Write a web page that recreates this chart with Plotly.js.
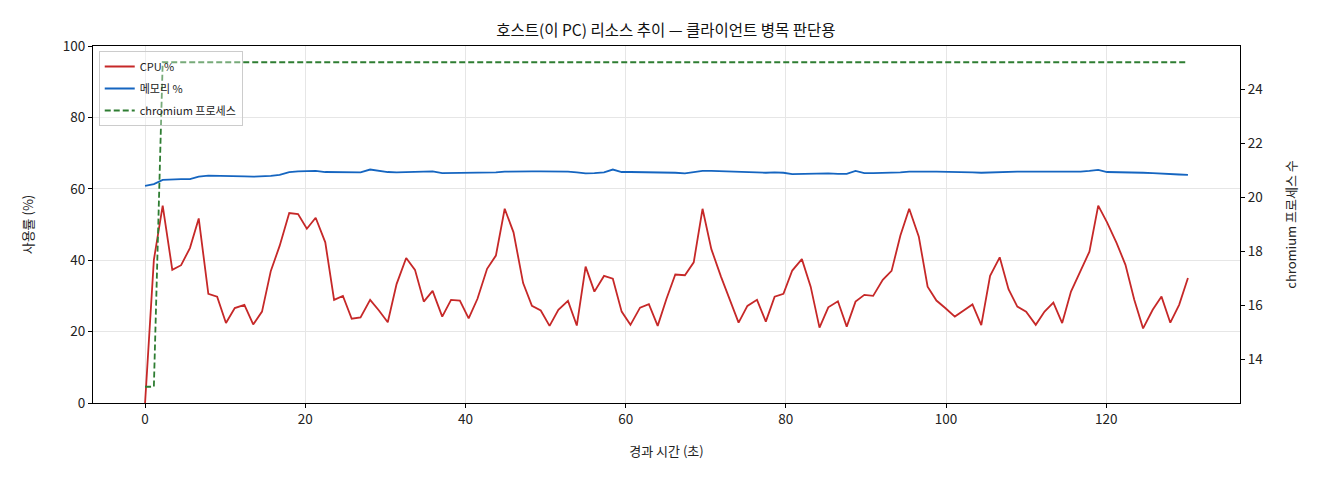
<!DOCTYPE html>
<html>
<head>
<meta charset="utf-8">
<script src="https://cdn.plot.ly/plotly-3.0.1.min.js"></script>
<style>
  html, body { margin: 0; padding: 0; background: #fff; }
  #chart { width: 1320px; height: 480px; }
</style>
</head>
<body>
<div id="chart"></div>
<script>
"use strict";

// elapsed time (s) for each sample
var elapsed = [
  0.0, 1.1, 2.2, 3.4, 4.5, 5.6, 6.7, 7.9, 9.0, 10.1,
  11.2, 12.4, 13.5, 14.6, 15.7, 16.8, 18.0, 19.1, 20.2, 21.3,
  22.5, 23.6, 24.7, 25.8, 26.9, 28.1, 29.2, 30.3, 31.4, 32.6,
  33.7, 34.8, 35.9, 37.1, 38.2, 39.3, 40.4, 41.5, 42.7, 43.8,
  44.9, 46.0, 47.2, 48.3, 49.4, 50.5, 51.6, 52.8, 53.9, 55.0,
  56.1, 57.3, 58.4, 59.5, 60.6, 61.8, 62.9, 64.0, 65.1, 66.2,
  67.4, 68.5, 69.6, 70.7, 71.9, 73.0, 74.1, 75.2, 76.4, 77.5,
  78.6, 79.7, 80.8, 82.0, 83.1, 84.2, 85.3, 86.5, 87.6, 88.7,
  89.8, 90.9, 92.1, 93.2, 94.3, 95.4, 96.6, 97.7, 98.8, 99.9,
  101.1, 102.2, 103.3, 104.4, 105.5, 106.7, 107.8, 108.9, 110.0, 111.2,
  112.3, 113.4, 114.5, 115.6, 116.8, 117.9, 119.0, 120.1, 121.3, 122.4,
  123.5, 124.6, 125.8, 126.9, 128.0, 129.1, 130.2
]

var cpuPct = [
  0, 40.1, 55.3, 37.3, 38.6, 43.4, 51.7, 30.6, 29.8, 22.4,
  26.6, 27.5, 22.0, 25.6, 37.0, 44.0, 53.2, 52.9, 48.8, 51.9,
  45.0, 28.9, 30.0, 23.6, 24.0, 28.9, 25.9, 22.6, 33.3, 40.6,
  37.3, 28.4, 31.4, 24.2, 28.9, 28.7, 23.7, 29.2, 37.6, 41.3,
  54.4, 47.8, 33.6, 27.2, 25.9, 21.6, 26.1, 28.6, 21.7, 38.2,
  31.2, 35.6, 34.8, 25.6, 21.9, 26.7, 27.7, 21.6, 29.2, 36.0,
  35.8, 39.4, 54.4, 43.1, 35.4, 28.9, 22.5, 27.2, 28.9, 22.8,
  29.8, 30.6, 37.1, 40.3, 32.6, 21.1, 26.8, 28.5, 21.4, 28.4,
  30.3, 30.0, 34.5, 37.0, 46.9, 54.4, 46.6, 32.6, 28.7, 26.6,
  24.2, 25.9, 27.6, 21.8, 35.6, 40.8, 31.9, 27.0, 25.6, 21.9,
  25.6, 28.1, 22.4, 31.2, 37.3, 42.4, 55.3, 50.6, 44.8, 38.7,
  28.9, 20.9, 26.1, 29.8, 22.5, 27.5, 35.0
]

var memPct = [
  60.8, 61.3, 62.5, 62.7, 62.7, 62.7, 63.4, 63.7, 63.7, 63.7,
  63.6, 63.5, 63.4, 63.4, 63.6, 63.9, 64.7, 64.9, 64.9, 65.0,
  64.7, 64.7, 64.7, 64.7, 64.6, 65.4, 65.0, 64.7, 64.6, 64.7,
  64.9, 65.0, 64.9, 64.4, 64.4, 64.4, 64.4, 64.5, 64.5, 64.6,
  64.8, 64.9, 65.0, 64.9, 64.9, 64.9, 64.9, 64.8, 64.6, 64.3,
  64.4, 64.6, 65.4, 64.7, 64.7, 64.7, 64.6, 64.6, 64.6, 64.5,
  64.3, 64.7, 65.0, 65.0, 64.9, 64.9, 64.8, 64.8, 64.5, 64.5,
  64.6, 64.5, 64.1, 64.2, 64.3, 64.3, 64.3, 64.2, 64.2, 65.0,
  64.4, 64.4, 64.4, 64.5, 64.6, 64.8, 64.9, 64.8, 64.8, 64.8,
  64.8, 64.7, 64.6, 64.5, 64.6, 64.7, 64.8, 64.8, 64.8, 64.8,
  64.7, 64.6, 64.6, 64.7, 64.8, 65.0, 65.3, 64.7, 64.7, 64.7,
  64.6, 64.5, 64.4, 64.2, 64.1, 64.0, 63.9
]

var chromiumProcs = [
  13, 13, 25, 25, 25, 25, 25, 25, 25, 25,
  25, 25, 25, 25, 25, 25, 25, 25, 25, 25,
  25, 25, 25, 25, 25, 25, 25, 25, 25, 25,
  25, 25, 25, 25, 25, 25, 25, 25, 25, 25,
  25, 25, 25, 25, 25, 25, 25, 25, 25, 25,
  25, 25, 25, 25, 25, 25, 25, 25, 25, 25,
  25, 25, 25, 25, 25, 25, 25, 25, 25, 25,
  25, 25, 25, 25, 25, 25, 25, 25, 25, 25,
  25, 25, 25, 25, 25, 25, 25, 25, 25, 25,
  25, 25, 25, 25, 25, 25, 25, 25, 25, 25,
  25, 25, 25, 25, 25, 25, 25, 25, 25, 25,
  25, 25, 25, 25, 25, 25, 25
]

var seriesNames = ["CPU %", "메모리 %", "chromium 프로세스"]

var FONT = "'Noto Sans CJK KR', 'Noto Sans', sans-serif"

var traceCpu = {
  x: elapsed, y: cpuPct, type: "scatter", mode: "lines",
  name: seriesNames[0], legendgroup: "cpu",
  line: { color: "#c62828", width: 1.8 }
}
var traceMem = {
  x: elapsed, y: memPct, type: "scatter", mode: "lines",
  name: seriesNames[1], legendgroup: "mem",
  line: { color: "#1565c0", width: 1.8 }
}
var traceProcs = {
  x: elapsed, y: chromiumProcs, type: "scatter", mode: "lines",
  name: seriesNames[2], legendgroup: "procs", yaxis: "y2",
  line: { color: "#2e7d32", width: 1.8, dash: "6px,3px" }
}

var axisCommon = {
  showline: true, linecolor: "#000", linewidth: 1,
  ticks: "outside", ticklen: 4, tickcolor: "#000",
  tickfont: { size: 13.5, color: "#222" },
  zeroline: false
}

var layout = {
  width: 1320, height: 480,
  margin: { l: 93, r: 80, t: 46, b: 77 },
  paper_bgcolor: "#fff", plot_bgcolor: "#fff",
  font: { family: FONT, color: "#222" },
  title: {
    text: "호스트(이 PC) 리소스 추이 — 클라이언트 병목 판단용",
    font: { size: 15.5, color: "#111" },
    x: 0.5045, xanchor: "center", y: 0.937, yanchor: "middle"
  },
  showlegend: true,
  legend: {
    x: 0.005, y: 0.986, xanchor: "left", yanchor: "top",
    bgcolor: "rgba(255,255,255,0.35)", bordercolor: "#ccc", borderwidth: 1,
    font: { size: 11, color: "#222" },
    tracegroupgap: 3
  },
  xaxis: Object.assign({}, axisCommon, {
    range: [-6.5, 136.7], tick0: 0, dtick: 20,
    showgrid: true, gridcolor: "#e6e6e6", mirror: true,
    title: { text: "경과 시간 (초)", font: { size: 13 }, standoff: 19 }
  }),
  yaxis: Object.assign({}, axisCommon, {
    range: [0, 100], tick0: 0, dtick: 20,
    showgrid: true, gridcolor: "#e6e6e6",
    title: { text: "사용률 (%)", font: { size: 13 }, standoff: 26 }
  }),
  yaxis2: Object.assign({}, axisCommon, {
    overlaying: "y", side: "right",
    range: [12.4, 25.6], tick0: 14, dtick: 2,
    showgrid: false,
    title: { text: "chromium 프로세스 수", font: { size: 13 }, standoff: 24 }
  })
}

Plotly.newPlot("chart", [traceCpu, traceMem, traceProcs], layout, { displayModeBar: false, staticPlot: true })
</script>
</body>
</html>
